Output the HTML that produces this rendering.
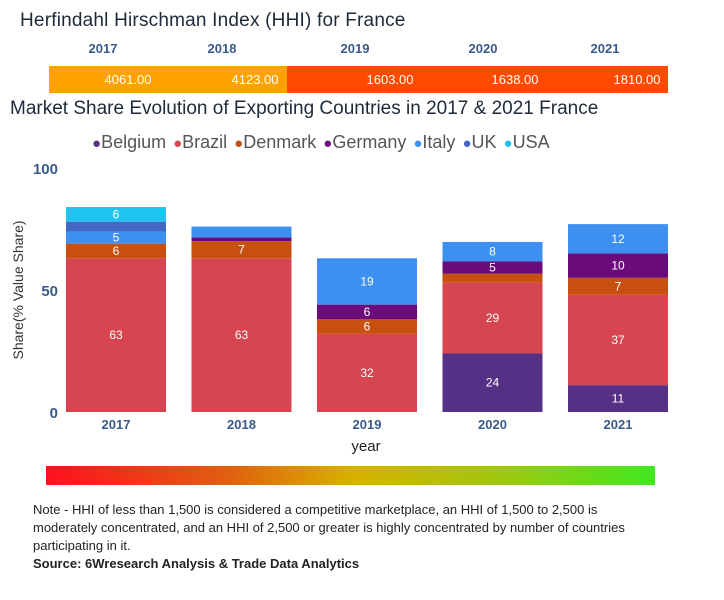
<!DOCTYPE html>
<html><head><meta charset="utf-8"><style>
body{margin:0;background:#fff;font-family:"Liberation Sans",sans-serif;}
#root{position:relative;width:724px;height:600px;overflow:hidden;}
.t{position:absolute;white-space:nowrap;}
</style></head><body>
<div id="root">
<div class="t" style="left:20px;top:10px;font-size:19px;color:#1d2a3a;letter-spacing:0.2px">Herfindahl Hirschman Index (HHI) for France</div>
<svg id="hhi" width="724" height="100" style="position:absolute;left:0;top:0"></svg>
<div class="t" style="left:10px;top:98px;font-size:19px;color:#1d2a3a">Market Share Evolution of Exporting Countries in 2017 &amp; 2021 France</div>
<div class="t" id="legend" style="left:92px;top:132px;font-size:18px;color:#555"></div>
<svg id="chart" width="724" height="460" style="position:absolute;left:0;top:0"></svg>
<div style="position:absolute;left:46px;top:466px;width:609px;height:19px;background:linear-gradient(90deg,#ff1020,#e06010 30%,#d8b000 50%,#a0c810 75%,#40e820)"></div>
<div class="t" style="left:33px;top:501px;font-size:13px;line-height:18px;color:#222;white-space:normal;width:605px">Note - HHI of less than 1,500 is considered a competitive marketplace, an HHI of 1,500 to 2,500 is moderately concentrated, and an HHI of 2,500 or greater is highly concentrated by number of countries participating in it.</div>
<div class="t" style="left:33px;top:556px;font-size:13px;font-weight:bold;color:#222">Source: 6Wresearch Analysis &amp; Trade Data Analytics</div>
</div>
<script>
const years=["2017","2018","2019","2020","2021"];
const hhiValues=[4061,4123,1603,1638,1810];
const countries=["Belgium","Brazil","Denmark","Germany","Italy","UK","USA"];
const colors=["#553087","#d64550","#c8500f","#6b0a7a","#3d8ff0","#4466c4","#1ec3ef"];
const belgium=[0,0,0,24,11];
const brazil=[63,63,32,29,37];
const denmark=[6,7,6,3.7,7];
const germany=[0,1.5,6,5,10];
const italy=[5,4.5,19,8,12];
const uk=[4,0,0,0,0];
const usa=[6,0,0,0,0];
const series=[belgium,brazil,denmark,germany,italy,uk,usa];
const yTicks=[0,50,100];
const NS="http://www.w3.org/2000/svg";
function mk(p,tag,at,txt){const e=document.createElementNS(NS,tag);for(const k in at)e.setAttribute(k,at[k]);if(txt!==undefined)e.textContent=txt;p.appendChild(e);return e;}
const hs=document.getElementById('hhi');
const cellX=[49,167,287,413,540,667];
const yrX=[103,222,355,483,605];
const valX=[128,255,390,515,637];
years.forEach((y,i)=>{
 const t=mk(hs,'text',{x:yrX[i],y:53,'text-anchor':'middle','font-size':13,'font-weight':'bold',fill:'#3a5a8c'},y);
 
 
 const r=mk(hs,'rect',{x:cellX[i],y:66,width:cellX[i+1]-cellX[i]+1,height:27,fill:hhiValues[i]>2500?'#ffa200':'#ff4a00'});
 
 
 const v=mk(hs,'text',{x:valX[i],y:84,'text-anchor':'middle','font-size':13,fill:'#fff'},hhiValues[i].toFixed(2));
 
 
});
const lg=document.getElementById('legend');
countries.forEach((c,i)=>{
 const s=document.createElement('span');
 
 
 s.style.marginRight='7px';
 s.innerHTML='<span style="color:'+colors[i]+';font-size:15px">●</span>'+c;
 lg.appendChild(s);
});
const svg=document.getElementById('chart');
const y0=412,ppu=2.44;
const yS=v=>y0-v*ppu;
const xS=i=>66+i*125.5;
const bw=100;
yTicks.forEach(t=>{
 const e=mk(svg,'text',{x:58,y:yS(t)+6,'text-anchor':'end','font-size':15,'font-weight':'bold',fill:'#3a5a8c'},t);
 
 
});
const yt=mk(svg,'text',{x:0,y:0,transform:'translate(23,290) rotate(-90)','text-anchor':'middle','font-size':14,fill:'#333'},'Share(% Value Share)');


years.forEach((yr,i)=>{
 let acc=0;
 series.forEach((s,k)=>{
  const v=s[i]; if(!v)return;
  const r=mk(svg,'rect',{x:xS(i),y:yS(acc+v),width:bw,height:v*ppu,fill:colors[k]});
  
  
  if(v>=5){
   const l=mk(svg,'text',{x:xS(i)+bw/2,y:yS(acc+v/2)+4,'text-anchor':'middle','font-size':12,fill:'#fff'},Math.round(v));
   
   
  }
  acc+=v;
 });
 const xt=mk(svg,'text',{x:xS(i)+bw/2,y:429,'text-anchor':'middle','font-size':13,'font-weight':'bold',fill:'#3a5a8c'},yr);
 
 
});
const xtitle=mk(svg,'text',{x:366,y:451,'text-anchor':'middle','font-size':15,fill:'#222'},'year');


</script>
</body></html>
